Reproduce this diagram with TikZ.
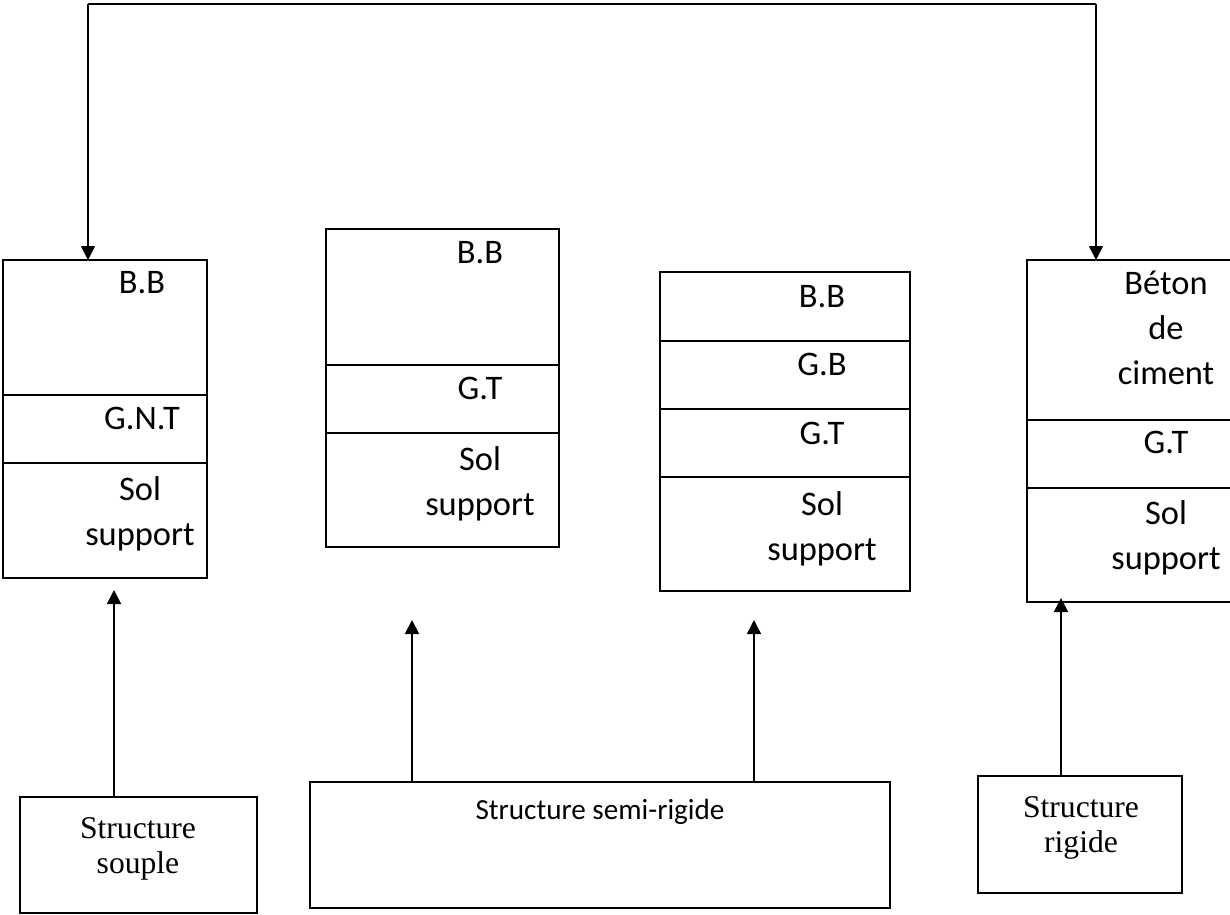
\documentclass[tikz,border=0pt]{standalone}
\usepackage{fontspec}
\setmainfont{Liberation Serif}
\newfontfamily\calibri{Carlito}
\usetikzlibrary{positioning}
\usetikzlibrary{arrows.meta}

\tikzset{
couche/.style={draw, line width=1.1pt, inner sep=0pt, outer sep=0pt, anchor=north},
etiq/.style={font=\calibri\fontsize{19.6}{25.6}\selectfont, align=center},
titre/.style={font=\fontsize{18}{20}\selectfont, align=center},
fleche/.style={line width=1pt, -{Triangle[length=2.8mm,width=2.8mm]}},
}

\begin{document}
\begin{tikzpicture}[x=0.02cm,y=-0.02cm]
\useasboundingbox (0,0) rectangle (1230,915);

% structure souple
\node[couche,anchor=north west,minimum width=4.08cm,minimum height=2.7cm] (bb1) at (3,260) {};
\node[couche,minimum width=4.08cm,minimum height=1.36cm,below=0pt of bb1] (gnt1) {};
\node[couche,minimum width=4.08cm,minimum height=2.3cm,below=0pt of gnt1] (sol1) {};
\node[etiq] (tbb1) at (142,283) {B.B};
\node[etiq] (tgnt1) at (142,418) {G.N.T};
\node[etiq] (tsol1) at (140,514) {Sol\\support};

% structure semi-rigide (1)
\node[couche,anchor=north west,minimum width=4.66cm,minimum height=2.72cm] (bb2) at (326,229) {};
\node[couche,minimum width=4.66cm,minimum height=1.36cm,below=0pt of bb2] (gt2) {};
\node[couche,minimum width=4.66cm,minimum height=2.28cm,below=0pt of gt2] (sol2) {};
\node[etiq] (tbb2) at (480,253) {B.B};
\node[etiq] (tgt2) at (480,388) {G.T};
\node[etiq] (tsol2) at (480,484) {Sol\\support};

% structure semi-rigide (2)
\node[couche,anchor=north west,minimum width=5cm,minimum height=1.38cm] (bb3) at (660,272) {};
\node[couche,minimum width=5cm,minimum height=1.36cm,below=0pt of bb3] (gb3) {};
\node[couche,minimum width=5cm,minimum height=1.36cm,below=0pt of gb3] (gt3) {};
\node[couche,minimum width=5cm,minimum height=2.28cm,below=0pt of gt3] (sol3) {};
\node[etiq] (tbb3) at (822,297) {B.B};
\node[etiq] (tgb3) at (822,364) {G.B};
\node[etiq] (tgt3) at (822,433) {G.T};
\node[etiq] (tsol3) at (822,529) {Sol\\support};

% structure rigide
\node[couche,anchor=north west,minimum width=4.2cm,minimum height=3.2cm] (beton4) at (1027,260) {};
\node[couche,minimum width=4.2cm,minimum height=1.36cm,below=0pt of beton4] (gt4) {};
\node[couche,minimum width=4.2cm,minimum height=2.28cm,below=0pt of gt4] (sol4) {};
\node[etiq] (tbeton4) at (1166,328) {Béton\\de\\ciment};
\node[etiq] (tgt4) at (1166,442) {G.T};
\node[etiq] (tsol4) at (1166,538) {Sol\\support};

% liaison du haut
\coordinate (hautG) at (88,4);
\coordinate (hautD) at (1096,4);
\draw[line width=1.4pt] (hautG) -- (hautD);
\draw[fleche] (hautG) -- (hautG |- bb1.north);
\draw[fleche] (hautD) -- (hautD |- beton4.north);

% types de structure
\node[couche,anchor=north west,minimum width=4.74cm,minimum height=2.32cm] (souple) at (20,797) {};
\node[titre] (tsouple) at (138,849) {Structure\\souple};
\node[couche,anchor=north west,minimum width=11.6cm,minimum height=2.52cm] (semi) at (310,782) {};
\node[font=\calibri\fontsize{16.6}{20}\selectfont] (tsemi) at (600,812) {Structure semi-rigide};
\node[couche,anchor=north west,minimum width=4.08cm,minimum height=2.34cm] (rigide) at (978,776) {};
\node[titre] (trigide) at (1081,828) {Structure\\rigide};

\coordinate (pointe1) at (114,590);
\coordinate (pointe2) at (412,620);
\coordinate (pointe3) at (754,620);
\coordinate (pointe4) at (1061,598);
\draw[fleche] (souple.north -| pointe1) -- (pointe1);
\draw[fleche] (semi.north -| pointe2) -- (pointe2);
\draw[fleche] (semi.north -| pointe3) -- (pointe3);
\draw[fleche] (rigide.north -| pointe4) -- (pointe4);

\end{tikzpicture}
\end{document}
